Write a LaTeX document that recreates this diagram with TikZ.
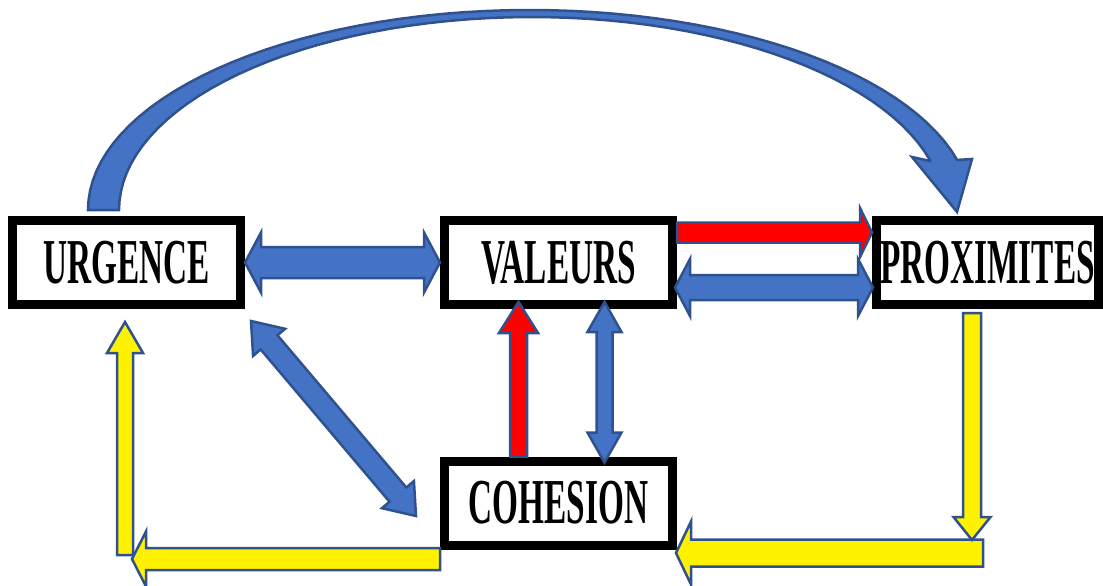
\documentclass[tikz,border=0pt]{standalone}
\usepackage{fontspec}
\setmainfont{Liberation Serif}
\usetikzlibrary{calc}
\definecolor{bleuF}{HTML}{4472C4}
\definecolor{bleuT}{HTML}{2F528F}
% fleche pleine : style, depart, pointe, demi-corps, demi-tete, longueur tete
\newcommand{\fleche}[6]{%
	\filldraw[#1] ($#2!#4!90:#3$) -- ($#3!#6!#2!#4!-90:#2$) -- ($#3!#6!#2!#5!-90:#2$) -- #3
		-- ($#3!#6!#2!#5!90:#2$) -- ($#3!#6!#2!#4!90:#2$) -- ($#2!#4!-90:#3$) -- cycle;}
% fleche double
\newcommand{\flechedb}[6]{%
	\filldraw[#1] #2 -- ($#2!#6!#3!#5!90:#3$) -- ($#2!#6!#3!#4!90:#3$) -- ($#3!#6!#2!#4!-90:#2$)
		-- ($#3!#6!#2!#5!-90:#2$) -- #3 -- ($#3!#6!#2!#5!90:#2$) -- ($#3!#6!#2!#4!90:#2$)
		-- ($#2!#6!#3!#4!-90:#3$) -- ($#2!#6!#3!#5!-90:#3$) -- cycle;}
\newcommand{\mot}[1]{\scalebox{0.52}[1]{\fontsize{64}{64}\selectfont\bfseries #1}}

\begin{document}
\begin{tikzpicture}[x=1pt,y=-1pt,
	boite/.style={draw=black,line width=9pt,fill=white,minimum width=228pt,minimum height=84pt,inner sep=0pt},
	bleu/.style={fill=bleuF,draw=bleuT,line width=2.5pt},
	rouge/.style={bleu,fill=red},
	jaune/.style={bleu,fill=yellow}]
	\useasboundingbox (0,0) rectangle (1103,586);
%	\draw[help lines,step=50] (0,0) grid (1103,586);
	\node[boite] (urg) at (126.5,262.5) {\mot{URGENCE}};
	\node[boite] (val) at (558.5,262.5) {\mot{VALEURS}};
	\node[boite,minimum width=222pt] (prox) at (987.5,262.5) {\mot{PROXIMITES}};
	\node[boite] (coh) at (558.5,503) {\mot{COHESION}};

	% grande fleche courbe
	\filldraw[bleu] plot[domain=180:14.5,samples=60] ({529.6+441.6*cos(\x)},{210-200*sin(\x)})
		-- (972,159) -- (957,212) -- (912,157) -- (930,161)
		-- plot[domain=15:180,samples=60] ({531.5+412.5*cos(\x)},{210-193*sin(\x)}) -- cycle;

	\flechedb{bleu}{(urg.east)}{(val.west)}{15.5pt}{30pt}{16pt}
	\fleche{rouge}{($(val.east)+(0,-30)$)}{($(prox.west)+(0,-30)$)}{10pt}{24.5pt}{12pt}
	\flechedb{bleu}{($(val.east)+(-2,25)$)}{($(prox.west)+(1,25)$)}{12.5pt}{28.5pt}{15pt}
	\fleche{rouge}{($(coh.north)+(-40,0)$)}{($(val.south)+(-40,-7)$)}{8.5pt}{19.5pt}{31pt}
	\flechedb{bleu}{($(val.south)+(46,-7)$)}{($(coh.north)+(46,6)$)}{8pt}{17pt}{30pt}

	\coordinate (d1) at (251,321);
	\coordinate (d2) at (416,516);
	\flechedb{bleu}{(d1)}{(d2)}{11pt}{21pt}{28pt}

	% circuit jaune
	\coordinate (j1) at (972,313);
	\coordinate (j2) at (972,540);
	\coordinate (j3) at (983,553);
	\coordinate (j4) at ($(coh.east)+(-1,50)$);
	\coordinate (j5) at ($(coh.west)+(0,56)$);
	\coordinate (j6) at (132,559);
	\coordinate (j7) at (125,555);
	\coordinate (j8) at (125,322);
	\fleche{jaune}{(j3)}{(j4)}{13.5pt}{31.5pt}{15pt}
	\fleche{jaune}{(j1)}{(j2)}{9pt}{18.5pt}{23pt}
	\fleche{jaune}{(j7)}{(j8)}{8pt}{18pt}{31pt}
	\fleche{jaune}{(j5)}{(j6)}{11pt}{27.5pt}{14pt}
\end{tikzpicture}
\end{document}
